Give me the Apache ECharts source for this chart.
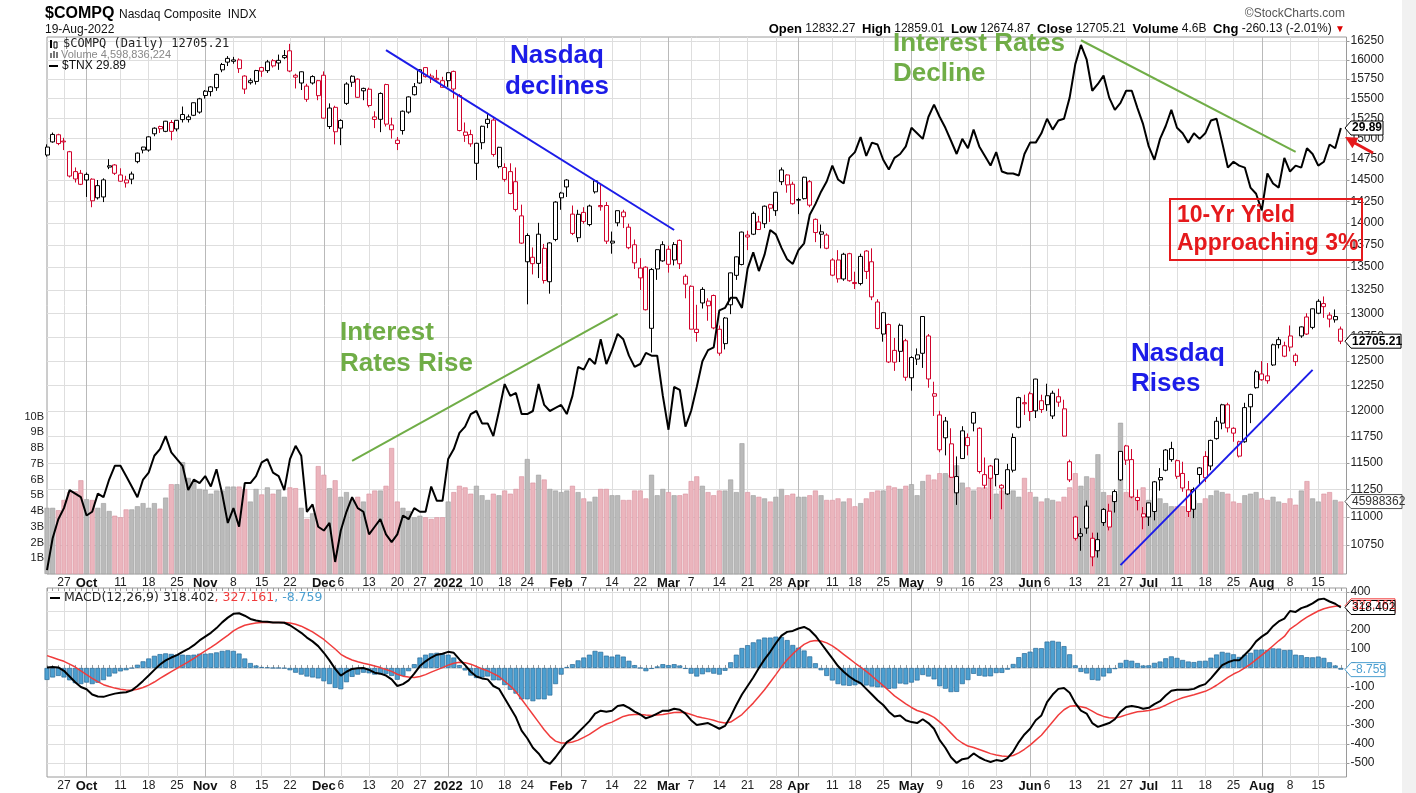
<!DOCTYPE html>
<html><head><meta charset="utf-8">
<script src="https://cdn.jsdelivr.net/npm/echarts@6/dist/echarts.min.js"></script>
<style>html,body{margin:0;padding:0;background:#fff}#c{width:1416px;height:793px}</style>
</head><body><div id="c"></div>
<script>
// ---------------- DATA ----------------
const monthKeys = ['2021-09','2021-10','2021-11','2021-12','2022-01','2022-02','2022-03','2022-04','2022-05','2022-06','2022-07','2022-08'];
const monthDays = [
 [22,23,24,27,28,29,30],
 [1,4,5,6,7,8,11,12,13,14,15,18,19,20,21,22,25,26,27,28,29],
 [1,2,3,4,5,8,9,10,11,12,15,16,17,18,19,22,23,24,26,29,30],
 [1,2,3,6,7,8,9,10,13,14,15,16,17,20,21,22,23,27,28,29,30,31],
 [3,4,5,6,7,10,11,12,13,14,18,19,20,21,24,25,26,27,28,31],
 [1,2,3,4,7,8,9,10,11,14,15,16,17,18,22,23,24,25,28],
 [1,2,3,4,7,8,9,10,11,14,15,16,17,18,21,22,23,24,25,28,29,30,31],
 [1,4,5,6,7,8,11,12,13,14,18,19,20,21,22,25,26,27,28,29],
 [2,3,4,5,6,9,10,11,12,13,16,17,18,19,20,23,24,25,26,27,31],
 [1,2,3,6,7,8,9,10,13,14,15,16,17,21,22,23,24,27,28,29,30],
 [1,5,6,7,8,11,12,13,14,15,18,19,20,21,22,25,26,27,28,29],
 [1,2,3,4,5,8,9,10,11,12,15,16,17,18,19]
];
const tickLabels = [['2021-09-27','27'],['2021-10-01','Oct'],['2021-10-11','11'],['2021-10-18','18'],['2021-10-25','25'],['2021-11-01','Nov'],['2021-11-08','8'],['2021-11-15','15'],['2021-11-22','22'],['2021-12-01','Dec'],['2021-12-06','6'],['2021-12-13','13'],['2021-12-20','20'],['2021-12-27','27'],['2022-01-03','2022'],['2022-01-10','10'],['2022-01-18','18'],['2022-01-24','24'],['2022-02-01','Feb'],['2022-02-07','7'],['2022-02-14','14'],['2022-02-22','22'],['2022-03-01','Mar'],['2022-03-07','7'],['2022-03-14','14'],['2022-03-21','21'],['2022-03-28','28'],['2022-04-01','Apr'],['2022-04-11','11'],['2022-04-18','18'],['2022-04-25','25'],['2022-05-02','May'],['2022-05-09','9'],['2022-05-16','16'],['2022-05-23','23'],['2022-06-01','Jun'],['2022-06-06','6'],['2022-06-13','13'],['2022-06-21','21'],['2022-06-27','27'],['2022-07-01','Jul'],['2022-07-11','11'],['2022-07-18','18'],['2022-07-25','25'],['2022-08-01','Aug'],['2022-08-08','8'],['2022-08-15','15']];
const monthLabelTexts = ['Oct','Nov','Dec','2022','Feb','Mar','Apr','May','Jun','Jul','Aug'];

const openP = [
14800,14960,14940,14960,14840,14600,14580,14500,14510,14290,
14300,14670,14680,14560,14500,14510,14720,14860,14860,15060,
15150,15090,15200,15120,15300,15270,15290,15330,15540,15590,
15640,15870,16020,16000,16000,15790,15730,15720,15900,15860,
15990,15960,16030,16120,15800,15700,15660,15700,15730,15800,
15150,15390,15130,15440,15710,15750,15600,15620,15270,15240,
15680,15110,14940,15100,15330,15550,15700,15900,15790,15760,
15730,15730,15850,15540,15040,15050,14700,14950,15240,15230,
14660,14650,14600,14480,14080,13560,13610,13870,13710,13340,
13810,14290,14500,14100,13830,14120,13980,14360,14200,14200,
13770,14000,14070,13950,13750,13490,13500,12840,13480,13570,
13700,13580,13800,13400,13290,12830,13110,13080,13190,12830,
12680,13090,13410,13530,13860,13870,14010,13990,14210,14140,
14480,14560,14450,14270,14280,14480,14040,13870,13860,13580,
13580,13370,13650,13320,13320,13680,13560,13120,12780,12880,
12610,12600,12710,12330,12520,12580,12760,12170,11960,11900,
11680,11220,11540,11740,11880,11830,11290,11470,11390,11290,
11210,11430,11840,12070,12170,12000,12100,12150,11950,12140,
12020,11510,11000,10850,10900,10810,10700,10950,10910,11140,
11340,11660,11530,11150,11000,11000,11050,11340,11430,11530,
11520,11400,11050,11070,11390,11560,11470,11730,11880,12060,
11830,11700,11700,12040,12230,12310,12300,12460,12670,12550,
12760,12560,12760,12960,12850,13000,13070,12980,12930,12832.27];
const highP = [
14930,15075,15060,15010,14850,14650,14620,14590,14520,14500,
14520,14750,14690,14640,14550,14600,14830,14900,15030,15140,
15160,15220,15230,15230,15400,15300,15450,15510,15610,15660,
15820,15960,16050,16040,16020,15800,15760,15870,15910,16000,
16010,16070,16130,16212,15820,15850,15690,15800,15740,15850,
15440,15410,15240,15710,15800,15760,15640,15640,15340,15580,
15690,15260,15020,15350,15530,15700,15880,15900,15820,15870,
15780,15840,15860,15560,15200,15110,14950,15160,15320,15260,
14900,14700,14700,14650,14210,13880,13720,14000,13760,13780,
14250,14360,14510,14200,14150,14180,14210,14500,14440,14240,
13900,14140,14150,13990,13810,13600,13510,13490,13700,13790,
13740,13780,13810,13420,13300,13090,13280,13160,13200,12870,
12960,13440,13620,13900,13910,14130,14080,14200,14220,14360,
14650,14570,14480,14290,14540,14500,14050,13980,13880,13600,
13690,13660,13660,13450,13650,13690,13710,13150,13010,12890,
12740,12890,12730,12550,12630,12970,12780,12290,12000,11940,
11830,11560,11850,11780,11990,11840,11550,11480,11540,11300,
11490,11780,12140,12160,12190,12320,12160,12270,12200,12220,
12110,11530,11010,10900,11150,10860,10860,11080,11120,11250,
11610,11670,11630,11250,11090,11130,11330,11450,11630,11700,
11530,11510,11330,11270,11460,11610,11720,11940,12070,12080,
11840,11710,12080,12170,12410,12500,12480,12680,12750,12700,
12870,12580,12860,13000,13050,13150,13180,13010,13040,12859.01];
const lowP = [
14780,14950,14920,14860,14530,14470,14440,14300,14180,14270,
14240,14630,14560,14480,14410,14450,14700,14820,14840,15030,
15070,15080,14980,15090,15200,15200,15280,15310,15500,15530,
15600,15840,15920,15950,15830,15560,15680,15680,15780,15830,
15900,15870,16010,15840,15630,15610,15460,15680,15480,15250,
15120,14930,14920,15420,15650,15510,15480,15390,15130,15080,
15150,15000,14860,15050,15310,15540,15690,15770,15700,15730,
15640,15650,15500,15090,14960,14900,14500,14870,15130,14780,
14640,14480,14330,14130,13760,13095,13420,13380,13320,13210,
13790,14150,14300,13860,13780,13990,13960,14340,14140,13760,
13650,13960,13940,13700,13480,13250,13030,12588,13360,13560,
13440,13520,13480,13160,12830,12700,13050,12920,12830,12555,
12620,12990,13360,13520,13690,13860,13920,13940,14010,14080,
14440,14350,14210,14100,14270,14180,13780,13710,13700,13400,
13330,13350,13340,13260,13300,13370,13140,12830,12700,12480,
12400,12490,12300,12200,12460,12430,12230,11950,11600,11570,
11360,11110,11540,11570,11800,11400,11260,10980,11280,11070,
11200,11410,11830,11960,11900,11930,11980,12000,11920,12040,
11750,11320,10790,10700,10850,10565,10640,10920,10880,11040,
11330,11480,11170,11060,10890,10920,10970,11240,11420,11510,
11350,11230,11000,10990,11290,11320,11430,11720,11820,11790,
11700,11550,11690,11880,12220,12300,12270,12450,12630,12540,
12600,12450,12740,12770,12830,12990,12950,12850,12900,12674.87];
const closeP = [
14897,15052,15048,14970,14547,14512,14449,14567,14255,14433,
14501,14654,14580,14486,14465,14571,14823,14897,15022,15129,
15122,15216,15090,15227,15236,15236,15448,15498,15595,15650,
15811,15940,15971,15982,15886,15622,15704,15861,15853,15974,
15922,15994,16057,15855,15775,15845,15492,15783,15538,15254,
15381,15085,15225,15687,15787,15517,15631,15413,15238,15566,
15180,15170,14981,15341,15522,15653,15871,15782,15766,15742,
15645,15833,15623,15100,15081,14936,14943,15153,15188,14807,
14894,14507,14340,14154,13769,13855,13539,13542,13353,13771,
14240,14346,14418,13879,14098,14016,14194,14490,14186,13791,
13791,14140,14124,13717,13548,13382,13037,13474,13695,13751,
13532,13752,13538,13313,12831,12796,13256,13130,12844,12581,
12949,13437,13615,13894,13838,14109,13923,14192,14169,14355,
14620,14442,14221,14262,14533,14204,13889,13897,13711,13412,
13372,13644,13351,13332,13620,13453,13175,12839,13005,12491,
12489,12872,12335,12536,12564,12965,12318,12145,11623,11738,
11364,11371,11805,11663,11985,11418,11389,11355,11535,11264,
11435,11741,12131,12081,11994,12317,12013,12061,12175,12086,
11754,11340,10809,10828,11099,10646,10798,11069,11053,11232,
11608,11525,11182,11178,11029,11128,11322,11362,11621,11635,
11373,11265,11248,11251,11452,11360,11713,11898,12060,11834,
11783,11563,12032,12163,12391,12369,12349,12668,12721,12658,
12644,12494,12855,12780,13047,13128,13103,12938,12965,12705.21];
// volume in billions of shares
const volumeB = [
4.2,4.2,4.05,4.7,5.2,5.25,5.95,4.75,4.7,4.2,
4.5,4.0,3.7,3.6,4.1,4.1,4.3,4.5,4.2,4.5,
4.15,4.85,5.7,5.7,7.1,6.1,5.85,5.4,5.35,5.1,
5.3,5.3,5.55,5.55,5.55,5.4,4.6,5.4,5.05,5.5,
5.1,5.35,4.9,5.5,5.45,4.2,3.5,3.85,6.85,6.3,
5.45,5.95,4.9,5.2,4.7,4.9,4.6,5.1,5.3,5.3,
5.6,8.0,4.6,4.2,4.0,3.6,3.7,3.6,3.5,3.6,
3.6,4.6,5.2,5.6,5.5,5.1,5.6,5.0,4.7,5.1,
5.0,5.3,5.1,5.4,6.2,7.3,5.8,6.3,6.0,5.4,
5.3,5.2,5.3,5.6,5.2,4.8,4.6,4.9,5.4,5.4,
5.0,5.0,4.7,4.7,5.3,5.3,4.8,6.3,5.0,5.4,
5.2,5.0,5.0,5.1,5.9,6.2,5.6,5.2,5.0,5.3,
5.3,6.0,5.2,8.3,5.2,5.0,4.9,4.8,4.6,4.9,
5.4,5.0,5.1,4.9,4.9,5.0,5.3,5.0,4.7,4.7,
4.8,4.6,4.8,4.3,4.5,4.8,5.2,5.3,5.3,5.6,
5.5,5.4,5.6,5.7,5.0,5.9,6.3,6.0,6.4,6.4,
6.3,6.9,5.8,5.5,5.3,5.5,5.5,6.2,5.1,5.3,
5.2,5.3,4.9,6.1,5.2,4.9,4.6,4.8,4.7,4.6,
4.9,5.5,6.4,5.6,6.2,6.1,7.6,5.2,5.0,5.1,
9.6,5.2,5.0,4.8,5.5,4.7,4.9,4.8,4.5,4.3,
4.3,4.3,4.7,4.7,4.5,4.8,5.0,5.3,5.2,5.1,
4.6,4.5,5.0,5.1,5.2,4.8,4.7,4.9,4.6,4.5,
4.8,4.4,5.3,5.9,4.8,4.6,5.1,5.2,4.7,4.6];
// $TNX (10-year yield x10)
const tnx = [
13.3,14.1,14.6,14.9,15.4,15.3,15.2,14.7,14.8,15.3,
15.2,15.7,16.1,16.1,15.8,15.5,15.2,15.7,15.9,16.4,
16.6,17.0,16.5,16.3,16.1,15.4,15.7,15.6,15.8,15.5,
16.0,15.3,14.5,14.9,14.4,15.6,15.6,15.8,16.2,16.3,
15.9,15.8,15.4,16.3,16.7,16.4,14.8,15.0,14.4,14.3,
14.5,13.5,14.3,14.8,15.2,14.9,14.8,14.2,14.4,14.6,
14.2,14.0,14.2,14.7,14.6,14.9,14.8,14.8,15.5,15.1,
15.1,16.3,16.6,17.1,17.3,17.7,17.8,17.4,17.4,17.0,
17.8,18.7,18.3,18.4,17.7,17.7,17.8,18.7,18.0,17.8,
17.9,18.0,17.7,18.3,19.3,19.2,19.6,19.4,20.3,19.4,
19.9,20.5,20.3,19.7,19.3,19.4,19.8,19.7,19.7,18.3,
17.2,18.6,18.5,17.3,17.8,18.6,19.5,19.9,20.0,21.4,
21.5,21.9,21.9,21.5,23.1,23.8,23.0,23.7,24.8,24.6,
24.0,23.5,23.3,23.9,24.2,25.5,26.0,26.6,27.1,27.9,
27.2,27.0,28.3,28.6,29.4,28.4,29.1,29.0,28.2,27.7,
28.3,28.5,28.9,29.9,29.6,29.3,30.5,31.2,30.5,29.9,
29.2,28.5,29.3,28.8,29.8,28.9,28.4,27.9,28.6,27.6,
27.5,27.5,27.4,28.5,29.1,29.1,29.6,30.4,29.8,30.3,
30.4,31.6,33.6,34.8,33.9,32.0,32.4,32.9,31.6,30.9,
31.3,32.0,32.0,31.0,30.1,28.9,28.2,29.3,30.0,30.9,
29.9,29.6,29.1,29.6,29.3,29.6,30.3,30.4,29.1,27.8,
28.1,27.9,27.8,26.8,26.5,25.7,27.5,27.0,26.8,28.3,
27.6,27.9,27.8,28.8,28.5,27.9,28.1,29.0,28.8,29.89];
const macdLine = [
2,5,3,-15,-45,-75,-100,-112,-140,-150,
-152,-143,-135,-130,-128,-118,-95,-68,-40,-10,
18,40,55,68,85,100,120,145,165,185,
210,240,265,285,288,275,258,250,245,243,
240,240,238,225,205,185,160,140,115,80,
40,-5,-40,-20,-5,-2,0,-10,-25,-30,
-40,-60,-95,-85,-65,-30,10,35,55,70,
75,85,80,45,15,-20,-45,-55,-60,-95,
-110,-160,-210,-260,-330,-370,-420,-450,-490,-505,
-470,-430,-390,-370,-340,-310,-280,-240,-225,-230,
-225,-200,-195,-210,-230,-245,-265,-255,-240,-225,
-225,-215,-220,-240,-275,-300,-295,-290,-305,-320,
-305,-255,-195,-140,-95,-50,0,45,85,130,
170,190,195,208,216,200,170,130,90,50,
10,-20,-45,-65,-80,-110,-140,-170,-195,-230,
-255,-250,-275,-285,-290,-270,-290,-320,-380,-420,
-470,-500,-480,-475,-450,-470,-485,-495,-485,-490,
-475,-440,-390,-350,-320,-275,-250,-180,-140,-110,
-105,-130,-185,-225,-240,-290,-310,-300,-290,-270,
-230,-205,-200,-205,-215,-210,-190,-175,-145,-120,
-115,-115,-115,-110,-95,-85,-55,-20,15,30,
40,40,70,100,140,165,185,220,245,260,
300,295,315,325,340,360,365,350,338,318.402];
const signalLine = [
65,55,45,35,20,5,-15,-35,-55,-72,
-88,-98,-106,-112,-116,-117,-112,-103,-90,-74,
-55,-37,-19,-2,15,32,50,70,90,108,
128,150,172,195,212,225,232,237,240,240,
240,240,240,237,230,220,205,190,170,150,
125,100,72,55,42,33,25,18,10,2,
-8,-18,-33,-43,-48,-50,-45,-35,-22,-10,
2,15,25,30,28,20,8,-5,-15,-30,
-45,-70,-95,-125,-165,-205,-245,-285,-325,-360,
-385,-395,-395,-390,-380,-365,-350,-330,-310,-295,
-285,-270,-255,-248,-245,-245,-248,-250,-248,-245,
-240,-235,-233,-235,-245,-255,-262,-268,-275,-285,
-290,-285,-265,-245,-215,-185,-150,-115,-75,-35,
7,43,74,101,124,139,145,142,132,116,
95,72,49,26,5,-18,-42,-68,-93,-120,
-147,-168,-189,-208,-224,-233,-245,-260,-284,-311,
-343,-374,-395,-411,-419,-429,-440,-451,-458,-464,
-466,-461,-447,-428,-406,-380,-354,-319,-283,-248,
-220,-202,-199,-204,-211,-227,-244,-255,-262,-264,
-257,-247,-238,-231,-228,-224,-217,-209,-196,-181,
-168,-157,-149,-141,-132,-123,-109,-91,-70,-50,
-32,-18,0,20,44,68,91,117,143,166,
205,225,248,268,284,300,312,320,325,327.161];
const macdHist = [
-63,-50,-42,-50,-65,-80,-85,-77,-85,-78,
-64,-45,-29,-18,-12,-1,17,35,50,64,
73,77,74,70,70,68,70,75,75,77,
82,90,93,90,76,50,26,13,5,3,
0,0,-2,-12,-25,-35,-45,-50,-55,-70,
-85,-105,-112,-75,-47,-35,-25,-28,-35,-32,
-32,-42,-62,-42,-17,20,55,70,77,80,
73,70,55,15,-13,-40,-53,-50,-45,-65,
-65,-90,-115,-135,-165,-165,-175,-165,-165,-145,
-85,-35,5,20,40,55,70,90,85,65,
60,70,60,38,15,0,-17,-5,8,20,
15,20,13,-5,-30,-45,-33,-22,-30,-35,
-15,30,70,105,120,135,150,160,160,165,
163,147,121,107,92,61,25,-12,-42,-66,
-85,-92,-94,-91,-85,-92,-98,-102,-102,-110,
-108,-82,-86,-77,-66,-37,-45,-60,-96,-109,
-127,-126,-85,-64,-31,-41,-45,-44,-27,-26,
-9,21,57,78,86,105,104,139,143,138,
115,72,14,-21,-29,-63,-66,-45,-28,-6,
27,42,38,26,13,14,27,34,51,61,
53,42,34,31,37,38,54,71,85,80,
72,58,70,80,96,97,94,103,102,94,
95,70,67,57,56,60,53,30,13,-8.759];
const priceTicks = [10750,11000,11250,11500,11750,12000,12250,12500,12750,13000,13250,13500,13750,14000,14250,14500,14750,15000,15250,15500,15750,16000,16250];
const volumeTicks = [1,2,3,4,5,6,7,8,9,10];
const macdTicks = [-500,-400,-300,-200,-100,0,100,200,300,400];
const trendLines = [
 {color:'#1c1ce8', from:['2021-12-16',16130], to:['2022-03-02',13918]},
 {color:'#70ad47', from:['2021-12-08',11517], to:['2022-02-15',12993]},
 {color:'#70ad47', from:['2022-06-14',16260], to:['2022-08-09',14838]},
 {color:'#1c1ce8', from:['2022-06-24',10575], to:['2022-08-12',12410]}
];

// ---------------- BUILD ----------------
const lg = Math.log10;
const dates = [];
monthKeys.forEach((m,k)=>monthDays[k].forEach(d=>dates.push(m+'-'+String(d).padStart(2,'0'))));
const cats = dates.concat(['']);
const labelMap = {}; tickLabels.forEach(([d,t])=>labelMap[d]=t);
const isMonth = v => labelMap[v]!==undefined && monthLabelTexts.indexOf(labelMap[v])>=0;
const isWeek = v => labelMap[v]!==undefined && !isMonth(v);

const RED='#d0042c', BLK='#000';
const candleData = closeP.map((c,i)=>{
  const o=openP[i], up = i===0 ? c>=o : c>=closeP[i-1];
  const col = up?BLK:RED;
  return {value:[lg(o),lg(c),lg(lowP[i]),lg(highP[i])], itemStyle:{color:'#fff',color0:col,borderColor:col,borderColor0:col,borderWidth:1}};
});
const volData = volumeB.map((v,i)=>{
  const up = i===0 ? true : closeP[i]>=closeP[i-1];
  return {value:v, itemStyle:{color: up?'#bababa':'#ebb5bd', borderColor: up?'#9c9c9c':'#d6919d', borderWidth:0.6}};
});

// price axis mapping (log)
const P_MAX = lg(16250)+4/2809, P_MIN = lg(16250)-533/2809;
const T_MAX = lg(29.89)+91/1257.2, T_MIN = lg(29.89)-446/1257.2;

const FONT='Liberation Sans, Arial, sans-serif';
function xAxisPair(gi, showTicks){
  return [{
    type:'category', gridIndex:gi, data:cats, boundaryGap:false, position:'bottom',
    axisLine:{show:false},
    axisTick:{show:showTicks, interval:0, inside:true, length:3, lineStyle:{color:'#999'}},
    axisLabel:{interval:(i,v)=>labelMap[v]!==undefined, margin:3, color:'#222', fontSize:12, fontFamily:FONT,
      formatter:(v)=> isMonth(v) ? '{m|'+labelMap[v]+'}' : (labelMap[v]||''),
      rich:{m:{fontWeight:'bold', fontSize:13, color:'#111', fontFamily:FONT}}},
    splitLine:{show:true, interval:(i,v)=>isWeek(v), lineStyle:{color:'#dedede', width:1}}
  },{
    type:'category', gridIndex:gi, data:cats, boundaryGap:false, position:'top',
    axisLine:{show:false}, axisTick:{show:showTicks, interval:0, inside:true, length:3, lineStyle:{color:'#999'}}, axisLabel:{show:false},
    splitLine:{show:true, interval:(i,v)=>isMonth(v), lineStyle:{color:'#b9b9b9', width:1}}
  }];
}

const option = {
  animation:false,
  backgroundColor:'#fff',
  grid:[
    {left:47, top:37, width:1299.5, height:537, show:true, borderColor:'#9a9a9a', borderWidth:1, backgroundColor:'transparent'},
    {left:47, top:588, width:1299.5, height:189, show:true, borderColor:'#9a9a9a', borderWidth:1, backgroundColor:'transparent'}
  ],
  xAxis:[...xAxisPair(0,false), ...xAxisPair(1,true)],
  yAxis:[
    {type:'value', gridIndex:0, position:'right', min:P_MIN, max:P_MAX, scale:true,
     axisLine:{show:false},
     axisTick:{show:true, customValues:priceTicks.map(lg), length:3, inside:false, lineStyle:{color:'#999'}},
     axisLabel:{customValues:priceTicks.map(lg), formatter:v=>String(Math.round(Math.pow(10,v))), color:'#222', fontSize:12, fontFamily:FONT, margin:4},
     splitLine:{show:true, lineStyle:{color:'#dedede'}}},
    {type:'value', gridIndex:0, position:'left', min:0, max:537/15.75,
     axisLine:{show:false}, axisTick:{show:false},
     axisLabel:{customValues:volumeTicks, formatter:v=>v+'B', color:'#222', fontSize:11, fontFamily:FONT, margin:3},
     splitLine:{show:false}},
    {type:'value', gridIndex:0, show:false, min:T_MIN, max:T_MAX, scale:true, splitLine:{show:false}},
    {type:'value', gridIndex:1, position:'right', min:-574, max:421,
     axisLine:{show:false},
     axisTick:{show:true, customValues:macdTicks, length:3, lineStyle:{color:'#999'}},
     axisLabel:{customValues:macdTicks, color:'#222', fontSize:12, fontFamily:FONT, margin:4},
     splitLine:{show:true, lineStyle:{color:'#dedede'}}}
  ],
  series:[
    {type:'bar', name:'Volume', xAxisIndex:0, yAxisIndex:1, data:volData, barWidth:5, z:1, silent:true},
    {type:'candlestick', name:'COMPQ', xAxisIndex:0, yAxisIndex:0, data:candleData, barWidth:4.5, z:3, silent:true,
     markLine:{silent:true, symbol:['none','none'], label:{show:false}, animation:false,
       data: trendLines.map(t=>[{coord:[t.from[0], lg(t.from[1])], lineStyle:{color:t.color,width:2,type:'solid'}},{coord:[t.to[0], lg(t.to[1])], lineStyle:{color:t.color,width:2,type:'solid'}}])}},
    {type:'line', name:'TNX', xAxisIndex:0, yAxisIndex:2, data:tnx.map(lg), symbol:'none', lineStyle:{color:'#000', width:2}, z:4, silent:true},
    {type:'bar', name:'Hist', xAxisIndex:2, yAxisIndex:3, data:macdHist, barWidth:5, itemStyle:{color:'#4c9fd0', borderColor:'#2a6a98', borderWidth:0.7}, z:1, silent:true},
    {type:'line', name:'Signal', xAxisIndex:2, yAxisIndex:3, data:signalLine, symbol:'none', lineStyle:{color:'#f03c3c', width:1.5}, z:3, silent:true},
    {type:'line', name:'MACD', xAxisIndex:2, yAxisIndex:3, data:macdLine, symbol:'none', lineStyle:{color:'#000', width:2}, z:4, silent:true}
  ]
};

const chart = echarts.init(document.getElementById('c'), null, {renderer:'canvas'});
chart.setOption(option);

// ---------------- GRAPHICS (texts, tags, annotations) ----------------
const last = closeP.length-1;
const yPrice = chart.convertToPixel({yAxisIndex:0}, lg(closeP[last]));
const yTnx = chart.convertToPixel({yAxisIndex:2}, lg(tnx[last]));
const yVol = chart.convertToPixel({yAxisIndex:1}, volumeB[last]);
const yMacd = chart.convertToPixel({yAxisIndex:3}, macdLine[last]);
const ySig = chart.convertToPixel({yAxisIndex:3}, signalLine[last]);
const yHist = chart.convertToPixel({yAxisIndex:3}, macdHist[last]);

function tag(y, text, stroke, color, w, bold){
  const x=1345;
  return [
    {type:'polygon', z:200, shape:{points:[[x,y],[x+6,y-7],[x+w,y-7],[x+w,y+7],[x+6,y+7]]}, style:{fill:'#fff', stroke:stroke, lineWidth:1}},
    {type:'text', z:201, x:x+7, y:y, style:{text:text, fill:color, font:(bold?'bold ':'')+'12px '+FONT, verticalAlign:'middle', align:'left'}}
  ];
}
const T = (x,y,text,font,fill,align)=>({type:'text', z:150, x, y, style:{text, font, fill, align:align||'left', verticalAlign:'middle'}});
const BIG = 'bold 26px '+FONT;
const graphics = [
  {type:'rect', z:-1, shape:{x:1402,y:0,width:14,height:793}, style:{fill:'#f1f1f1'}},
  // header
  T(45,14,'$COMPQ','bold 16px '+FONT,'#000'),
  T(119,15,'Nasdaq Composite  INDX','12px '+FONT,'#111'),
  T(45,30,'19-Aug-2022','12px '+FONT,'#111'),
  T(1345,14,'\u00A9StockCharts.com','12px '+FONT,'#555','right'),
  {type:'text', z:150, x:1345, y:29, style:{text:'{b|Open} 12832.27  {b|High} 12859.01  {b|Low} 12674.87  {b|Close} 12705.21  {b|Volume} 4.6B  {b|Chg} -260.13 (-2.01%) {r|\u25BC}', font:'12px '+FONT, fill:'#111', align:'right', verticalAlign:'middle', rich:{b:{font:'bold 13px '+FONT, fill:'#000'}, r:{fill:'#d00', font:'10px '+FONT}}}},
  // in-panel legend
  {type:'rect', z:150, shape:{x:50,y:40,width:2,height:8}, style:{fill:'#000'}},
  {type:'rect', z:150, shape:{x:54,y:42,width:3,height:6}, style:{fill:'#fff', stroke:'#000', lineWidth:1}},
  T(63,44,'$COMPQ (Daily) 12705.21','12px DejaVu Sans Mono, monospace','#222'),
  {type:'rect', z:150, shape:{x:50,y:53,width:2,height:5}, style:{fill:'#777'}},
  {type:'rect', z:150, shape:{x:53,y:51,width:2,height:7}, style:{fill:'#777'}},
  {type:'rect', z:150, shape:{x:56,y:52,width:2,height:6}, style:{fill:'#777'}},
  T(61,55,'Volume 4,598,836,224','11px '+FONT,'#888'),
  {type:'line', z:150, shape:{x1:49,y1:66,x2:58,y2:66}, style:{stroke:'#000', lineWidth:2}},
  T(62,66,'$TNX 29.89','12px '+FONT,'#111'),
  // MACD legend
  {type:'line', z:150, shape:{x1:50,y1:598,x2:60,y2:598}, style:{stroke:'#000', lineWidth:2}},
  {type:'text', z:150, x:64, y:598, style:{text:'MACD(12,26,9) 318.402{r|, 327.161}{b|, -8.759}', font:'12.5px DejaVu Sans, sans-serif', fill:'#222', verticalAlign:'middle', rich:{r:{fill:'#f03c3c', font:'12.5px DejaVu Sans, sans-serif'}, b:{fill:'#4c9fd0', font:'12.5px DejaVu Sans, sans-serif'}}}},
  // annotations
  T(557,56,'Nasdaq',BIG,'#1c1ce8','center'),
  T(557,87,'declines',BIG,'#1c1ce8','center'),
  T(340,333,'Interest',BIG,'#70ad47'),
  T(340,364,'Rates Rise',BIG,'#70ad47'),
  T(893,44,'Interest Rates',BIG,'#70ad47'),
  T(893,74,'Decline',BIG,'#70ad47'),
  T(1131,354,'Nasdaq',BIG,'#1c1ce8'),
  T(1131,384,'Rises',BIG,'#1c1ce8'),
  {type:'rect', z:150, shape:{x:1170,y:199,width:192,height:61}, style:{fill:'none', stroke:'#e5191c', lineWidth:2}},
  T(1177,216,'10-Yr Yield','bold 23px '+FONT,'#e5191c'),
  T(1177,244,'Approaching 3%','bold 23px '+FONT,'#e5191c'),
  {type:'line', z:210, shape:{x1:1373,y1:153,x2:1353,y2:142}, style:{stroke:'#e5191c', lineWidth:3}},
  {type:'polygon', z:210, shape:{points:[[1345,137],[1358.5,137.7],[1352.4,148.2]]}, style:{fill:'#e5191c'}},
  // value tags
  ...tag(yTnx,'29.89','#000','#000',38,true),
  ...tag(yPrice,'12705.21','#000','#000',56,true),
  ...tag(yVol,'45988362','#555','#333',57,false),
  ...tag(ySig,'327.161','#f03c3c','#f03c3c',50,false),
  ...tag(yMacd,'318.402','#000','#000',50,false),
  ...tag(yHist,'-8.759','#4c9fd0','#4c9fd0',40,false)
];
chart.setOption({graphic: graphics});
</script>
</body></html>
